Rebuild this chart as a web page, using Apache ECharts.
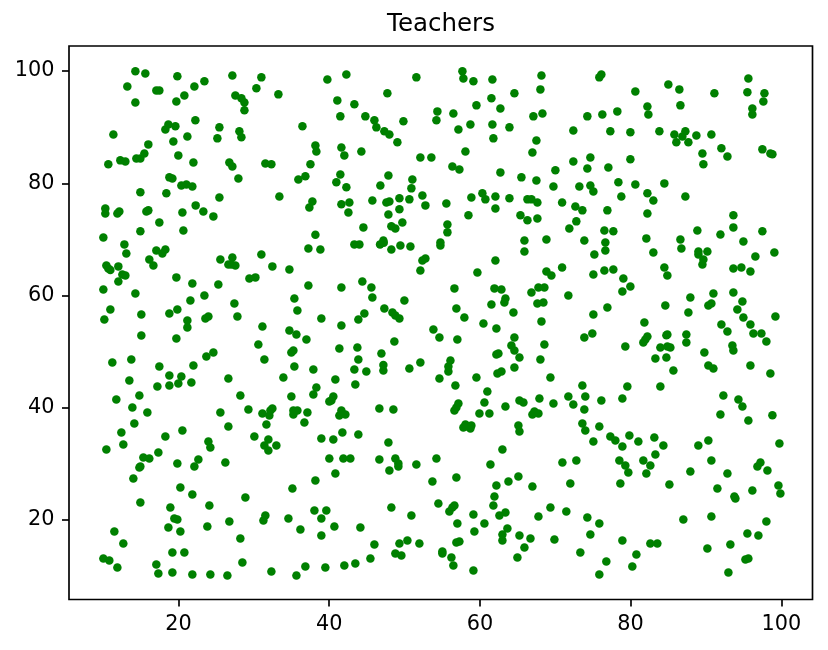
<!DOCTYPE html>
<html>
<head>
<meta charset="utf-8">
<script src="https://cdn.jsdelivr.net/npm/echarts@6/dist/echarts.min.js"></script>
<style>
html, body { margin: 0; padding: 0; background: #fff; }
#chart { width: 828px; height: 650px; }
</style>
</head>
<body>
<div id="chart"></div>
<script>
var xTicks = [20, 40, 60, 80, 100];
var yTicks = [20, 40, 60, 80, 100];

var points = [
[14.28,99.94],[15.60,99.58],[19.85,99.05],[27.15,99.22],[31.00,98.87],[23.44,98.16],[22.11,97.26],[13.21,97.26],[17.06,96.55],[17.46,96.55],
[20.78,95.66],[19.72,94.59],[14.28,94.41],[27.55,95.66],[28.35,95.13],[28.75,94.41],[28.75,92.99],[30.34,96.91],[33.26,95.84],[22.24,91.21],
[18.66,90.49],[19.59,90.14],[18.26,89.60],[25.43,89.96],[28.08,89.25],[28.35,88.18],[25.16,88.00],[21.18,88.35],[19.32,87.46],[11.36,88.71],
[16.00,86.93],[15.47,85.32],[14.94,84.43],[14.41,84.43],[12.95,83.90],[12.28,84.08],[10.69,83.37],[19.98,84.97],[21.98,83.72],[26.75,83.72],
[27.15,83.00],[31.53,83.54],[32.33,83.37],[36.45,90.14],[38.17,86.75],[38.30,85.68],[37.51,83.37],[36.84,81.23],[35.91,80.69],[27.95,80.87],
[18.79,81.05],[19.19,80.87],[20.38,79.62],[21.05,79.80],[21.84,79.44],[14.94,78.38],[18.39,78.20],[25.43,77.48],[33.39,77.66],[37.77,76.77],
[37.37,75.70],[22.28,76.06],[23.30,74.99],[24.63,74.10],[20.52,74.81],[16.00,75.17],[15.74,74.99],[12.15,74.99],[11.89,74.63],[10.29,75.52],
[10.29,74.63],[17.46,73.03],[14.94,71.43],[20.65,71.60],[38.17,70.83],

[39.76,98.51],[42.28,99.40],[51.57,98.87],[57.68,99.94],[57.81,98.69],[59.14,98.16],[61.66,98.51],[68.17,99.22],[68.03,96.73],[64.58,96.02],
[61.53,95.13],[62.72,93.34],[59.54,93.88],[47.72,96.02],[41.08,94.77],[43.34,94.06],[41.48,91.92],[44.80,91.92],[46.00,91.21],[46.26,89.96],
[47.32,89.25],[47.99,88.71],[49.05,87.29],[49.85,91.03],[54.36,92.81],[54.23,91.21],[56.48,92.45],[57.15,89.60],[58.74,90.49],[61.66,90.49],
[61.79,88.00],[63.92,89.96],[67.10,91.92],[68.30,92.45],[67.50,87.64],[66.97,85.50],[58.08,85.68],[52.10,84.61],[53.56,84.61],[56.35,83.00],
[57.28,82.47],[62.72,81.94],[65.51,81.05],[67.50,80.51],[70.02,82.30],[69.76,79.44],[41.62,86.39],[42.01,84.97],[44.27,85.68],[41.48,81.58],
[40.95,80.16],[42.28,79.27],[47.86,81.40],[46.79,79.62],[51.04,80.69],[50.91,79.09],[52.37,77.84],[52.77,76.06],[50.64,77.13],[49.32,77.31],
[47.99,76.77],[47.59,76.59],[45.73,76.95],[42.68,76.59],[41.62,76.24],[42.55,74.81],[47.86,74.45],[49.32,75.35],[49.71,73.03],[48.25,72.32],
[48.78,71.96],[44.54,72.14],[55.55,76.41],[55.69,72.67],[55.69,71.25],[58.87,77.48],[60.33,78.20],[60.73,77.13],[62.06,77.66],[62.06,75.52],
[58.48,74.28],[63.92,77.31],[66.31,77.13],[66.84,77.13],[67.63,76.59],[70.91,76.59],[65.38,74.28],[66.31,73.39],[67.63,73.74],

[76.12,99.40],[75.85,98.87],[80.63,96.37],[85.01,97.62],[86.47,96.73],[91.12,96.02],[95.63,98.69],[95.50,96.20],[97.76,96.02],[97.62,94.59],
[96.16,93.34],[96.16,92.27],[82.23,93.70],[82.36,92.27],[86.61,93.88],[78.24,92.81],[76.25,92.27],[74.26,91.92],[72.40,89.42],[77.31,89.25],
[79.97,89.07],[83.82,89.25],[85.81,88.71],[87.27,89.25],[86.87,88.35],[88.73,88.53],[90.72,88.71],[86.07,87.29],[87.67,87.29],[92.05,86.22],
[89.53,85.32],[92.85,84.79],[89.66,83.37],[97.49,86.04],[98.55,85.32],[98.82,85.15],[79.97,84.26],[74.66,84.61],[72.40,83.90],[74.26,82.65],
[77.05,82.83],[78.38,80.16],[80.63,79.80],[84.48,79.98],[73.20,79.44],[74.66,79.62],[75.06,78.55],[78.77,77.66],[82.23,78.20],[83.02,76.95],
[87.27,77.66],[72.67,75.88],[73.60,75.17],[76.92,75.17],[82.23,74.63],[72.80,73.21],[71.87,71.96],[76.52,71.60],[77.71,71.43],[88.86,71.60],
[93.64,74.28],[93.64,72.14],[91.92,70.89],[97.49,71.43],

[10.03,70.35],[12.82,69.11],[13.08,67.50],[17.06,68.04],[18.26,68.21],[17.86,67.50],[16.13,66.43],[16.67,65.36],[12.02,65.19],[10.43,65.36],
[10.69,64.83],[10.96,64.53],[12.55,63.76],[12.95,63.58],[12.02,62.51],[10.03,61.09],[14.28,60.37],[19.72,63.23],[21.84,62.16],[25.29,61.98],
[25.56,66.43],[27.15,66.79],[26.62,65.54],[27.02,65.54],[27.55,65.36],[31.00,67.32],[32.46,65.19],[34.72,64.65],[29.41,63.05],[30.21,63.23],
[37.24,68.39],[37.24,61.80],[23.44,60.02],[21.58,59.13],[27.42,58.59],[35.38,59.48],[35.78,57.34],[10.96,57.52],[10.16,55.74],[15.07,56.63],
[18.79,56.81],[19.85,57.52],[21.18,55.56],[21.18,54.32],[23.57,55.92],[23.97,56.28],[27.82,56.28],[31.14,54.49],[34.72,53.78],[35.65,53.07],
[36.98,52.18],[15.07,52.89],[19.72,52.35],[30.60,51.29],[31.40,48.61],[34.98,49.86],[35.25,50.22],[24.63,49.86],[23.70,49.15],[11.22,48.08],
[13.74,48.61],[17.46,47.37],[21.98,47.54],[35.38,47.37],[37.90,46.83],[18.79,45.76],[20.38,45.58],[33.92,45.40],[26.62,45.23],[13.48,44.87],
[17.20,43.80],[18.79,43.98],[19.98,44.34],[21.71,44.51],[38.30,43.62],[37.90,42.38],[34.98,42.02],[28.21,42.20],[14.81,42.20],[11.75,41.48],
[13.88,40.06],[15.87,39.17],[25.56,39.17],[29.28,39.70],[31.14,38.99],[32.46,39.88],[32.20,39.52],[32.06,38.63],[35.25,39.52],[35.78,39.52],
[35.25,38.81],[37.11,39.17],

[65.91,69.82],[68.83,70.00],[43.34,69.11],[44.01,69.11],[47.19,69.82],[47.24,69.40],[46.75,69.11],[48.25,68.21],[49.45,68.93],[50.78,68.75],
[54.76,69.46],[54.76,68.93],[38.83,68.21],[65.91,67.86],[62.06,66.25],[52.77,66.61],[52.37,66.25],[52.10,64.47],[59.67,64.12],[68.83,64.29],
[69.49,63.58],[70.91,65.01],[44.40,62.51],[41.62,61.44],[45.60,61.44],[45.73,59.66],[49.98,59.13],[56.62,61.27],[61.93,61.27],[62.86,61.09],
[67.77,61.44],[68.56,61.44],[66.84,60.55],[63.39,59.48],[63.25,58.77],[61.53,58.41],[67.63,58.59],[68.43,58.77],[64.45,56.99],[47.32,57.70],
[48.39,56.99],[48.78,56.45],[49.32,55.92],[44.67,56.81],[43.87,55.74],[38.96,55.92],[41.62,54.67],[56.88,57.70],[57.94,56.10],[60.47,55.03],
[62.19,54.14],[68.17,55.39],[53.83,53.96],[54.63,52.53],[57.01,52.18],[64.58,52.53],[68.56,51.29],[64.18,51.11],[64.58,50.22],[65.25,48.97],
[62.46,49.68],[62.19,49.50],[68.03,48.61],[48.65,51.82],[43.74,50.75],[41.35,50.57],[46.93,49.68],[43.87,48.61],[47.19,47.60],[47.19,46.65],
[43.34,46.83],[44.93,46.47],[50.64,47.01],[52.10,48.08],[56.09,48.43],[55.82,47.37],[55.82,46.47],[64.58,47.19],[62.86,46.47],[62.33,46.12],
[54.63,45.23],[59.54,45.40],[69.36,45.40],[40.82,45.05],[43.47,44.16],[56.75,43.98],[60.99,42.91],[40.55,42.02],[40.29,41.31],[40.02,41.13],
[60.60,40.95],[65.25,41.31],[65.78,40.95],[67.90,41.66],[69.76,40.77],[63.39,40.24],[57.15,40.77],[56.88,40.06],[56.62,39.52],[46.66,39.88],
[48.52,39.70],[41.62,39.52],[42.15,38.81],[41.35,38.63],[59.94,38.99],[61.26,38.99],[67.24,39.35],[67.77,38.99],[66.97,38.81],

[73.86,69.82],[76.65,69.46],[76.65,68.04],[75.19,67.32],[82.09,70.18],[83.02,67.68],[86.61,70.00],[86.74,68.39],[94.97,69.64],[89.00,67.86],
[89.00,67.32],[90.19,67.86],[89.66,66.43],[89.53,65.54],[96.56,66.97],[99.08,67.68],[93.64,64.83],[94.70,65.01],[95.90,64.29],[84.48,65.01],
[84.88,63.58],[75.06,63.76],[76.52,64.47],[77.71,64.65],[79.04,63.05],[79.97,61.62],[78.91,60.73],[71.74,60.02],[87.93,59.66],[90.99,60.37],
[93.64,60.55],[94.84,58.95],[90.72,58.59],[90.32,58.24],[94.17,57.52],[84.61,58.24],[87.67,56.99],[76.92,57.88],[75.06,56.63],[94.97,56.10],
[99.22,56.28],[95.90,54.85],[92.05,54.85],[92.85,53.60],[96.30,53.25],[97.36,53.25],[98.02,51.82],[81.83,55.21],[82.23,52.71],[81.96,52.18],
[81.69,51.64],[74.92,53.25],[73.86,52.53],[79.30,50.93],[84.88,53.07],[84.75,52.90],[87.40,53.07],[87.40,51.64],[83.95,50.75],[84.88,50.93],
[85.28,50.75],[83.29,48.79],[84.75,48.97],[93.51,51.11],[93.64,50.22],[89.79,49.86],[90.32,47.54],[90.99,47.01],[95.90,47.54],[85.68,46.65],
[98.55,46.12],[73.60,43.98],[79.57,43.80],[83.95,43.80],[71.74,42.02],[73.99,42.02],[72.40,40.59],[76.12,41.31],[78.91,41.66],[73.86,39.70],
[92.31,42.20],[94.31,41.48],[94.84,40.24],[91.92,38.81],[98.82,38.65],

[36.71,37.37],[31.67,37.02],[14.14,37.20],[12.42,35.59],[20.52,35.95],[26.62,36.66],[18.26,34.88],[30.07,34.88],[31.93,34.34],[12.68,33.45],
[10.43,32.56],[23.97,33.99],[24.23,32.92],[31.40,33.27],[32.99,33.27],[31.93,32.38],[17.33,32.03],[16.13,30.96],[15.34,31.14],[19.85,30.07],
[22.64,30.78],[22.11,29.53],[26.22,30.25],[14.94,29.53],[14.81,29.35],[14.01,27.39],[38.17,27.04],[35.12,25.61],[20.25,25.79],[21.84,24.54],
[28.88,24.01],[14.94,23.12],[18.92,22.23],[24.10,22.58],[38.04,21.69],[31.53,20.80],[31.27,19.91],[34.59,20.27],[19.45,20.27],[19.85,20.09],
[26.75,19.73],[18.66,18.66],[20.25,17.95],[23.83,18.84],[36.18,18.31],[11.49,17.95],[28.21,16.70],[12.68,15.81],[19.19,14.21],[20.78,14.21],
[10.03,13.14],[10.82,12.78],[11.89,11.53],[17.06,12.07],[28.48,12.42],[36.84,11.71],[32.33,10.82],[35.65,10.11],[17.33,10.47],[19.19,10.64],
[21.84,10.29],[24.23,10.29],[26.49,10.11],

[57.81,36.48],[58.08,37.02],[58.34,36.66],[58.87,36.84],[58.74,36.30],[65.11,36.84],[65.25,35.77],[41.75,35.59],[43.87,35.23],[38.96,34.52],
[40.55,34.34],[47.86,33.81],[62.99,32.56],[40.02,30.96],[41.88,30.96],[42.81,30.96],[46.66,30.78],[48.78,30.96],[49.18,30.07],[49.18,29.53],
[51.57,29.89],[54.23,30.96],[47.99,28.82],[61.40,29.89],[70.95,30.25],[40.82,28.29],[56.88,27.57],[53.70,26.86],[65.11,27.75],[63.79,26.86],
[62.19,26.15],[66.97,25.97],[61.93,24.19],[61.79,22.58],[54.49,22.94],[56.62,22.58],[56.35,22.23],[55.95,21.51],[39.62,21.69],[48.25,22.23],
[50.91,20.80],[59.14,20.98],[63.39,21.33],[62.59,20.80],[69.36,22.23],[67.77,20.62],[38.96,20.27],[60.60,19.37],[57.01,19.37],[40.69,18.84],
[44.14,18.66],[59.27,17.95],[63.65,18.48],[38.96,17.24],[62.99,17.42],[65.25,17.24],[66.71,16.70],[62.99,16.35],[69.89,16.52],[46.00,15.63],
[49.32,15.81],[50.38,16.35],[51.97,15.81],[57.28,16.17],[56.88,15.99],[65.91,15.10],[48.78,14.03],[49.58,13.67],[55.02,14.39],[55.02,14.03],
[56.22,13.32],[64.98,13.32],[45.47,13.14],[43.47,12.25],[42.01,11.89],[39.49,11.53],[56.48,11.89],[59.14,11.00],

[73.60,37.20],[73.99,35.95],[75.85,36.66],[95.63,37.73],[77.31,34.88],[77.98,34.17],[79.84,35.06],[81.03,33.99],[75.06,33.99],[78.91,33.10],
[83.15,34.70],[84.35,33.27],[90.32,34.17],[88.99,33.27],[99.75,33.63],[83.29,31.67],[72.80,30.60],[78.51,30.60],[79.30,29.71],[79.70,28.46],
[81.69,30.60],[82.62,29.71],[82.09,28.29],[90.72,30.60],[87.93,28.64],[92.85,28.29],[97.23,30.25],[96.83,29.53],[98.16,28.82],[72.00,26.50],
[78.64,26.50],[85.15,26.32],[91.52,25.61],[99.62,26.15],[99.88,24.72],[96.16,25.26],[93.77,24.19],[93.91,23.83],[71.47,21.51],[74.26,20.44],
[75.85,19.37],[87.00,20.09],[90.72,20.62],[98.02,19.73],[74.66,17.41],[95.50,17.59],[96.96,17.24],[78.91,16.35],[82.62,15.81],[83.55,15.81],
[93.24,15.63],[90.19,14.92],[73.33,14.21],[80.77,13.85],[76.78,12.60],[95.24,12.96],[95.63,13.14],[80.23,11.71],[75.85,10.29],[92.98,10.64]
];

var myChart = echarts.init(document.getElementById('chart'), null, { renderer: 'canvas' });

var option = {
    animation: false,
    backgroundColor: '#ffffff',
    title: {
        text: 'Teachers',
        left: 441,
        top: 12,
        padding: 0,
        textAlign: 'center',
        textStyle: {
            color: '#000000',
            fontFamily: 'DejaVu Sans',
            fontSize: 24.5,
            fontWeight: 'normal'
        }
    },
    grid: {
        show: true,
        left: 69,
        right: 15.5,
        top: 46,
        bottom: 50.5,
        borderColor: '#000000',
        borderWidth: 1.67
    },
    xAxis: {
        type: 'value',
        min: 5.47,
        max: 104.14,
        splitLine: { show: false },
        axisLine: { show: false },
        axisTick: { show: true, length: 7, customValues: xTicks, lineStyle: { color: '#000000', width: 1.67 } },
        axisLabel: { customValues: xTicks, color: '#000000', fontFamily: 'DejaVu Sans', fontSize: 20.8, margin: 14.5 }
    },
    yAxis: {
        type: 'value',
        min: 5.83,
        max: 104.46,
        splitLine: { show: false },
        axisLine: { show: false },
        axisTick: { show: true, length: 7, customValues: yTicks, lineStyle: { color: '#000000', width: 1.67 } },
        axisLabel: { customValues: yTicks, color: '#000000', fontFamily: 'DejaVu Sans', fontSize: 20.8, margin: 14.5 }
    },
    series: [
        {
            name: 'Teachers',
            type: 'scatter',
            symbolSize: 8.5,
            itemStyle: { color: '#008000', opacity: 1 },
            data: points
        }
    ]
};

myChart.setOption(option);
</script>
</body>
</html>
